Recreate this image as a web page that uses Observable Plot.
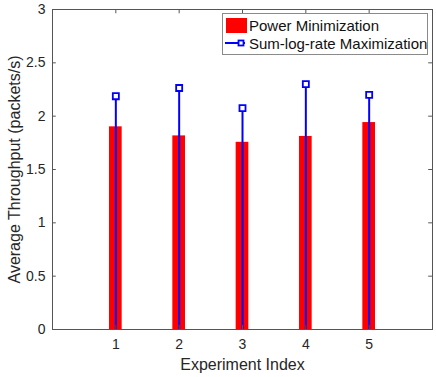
<!DOCTYPE html>
<html>
<head>
<meta charset="utf-8">
<script src="https://cdn.jsdelivr.net/npm/d3@7"></script>
<script src="https://cdn.jsdelivr.net/npm/@observablehq/plot@0.6"></script>
<style>
  html, body { margin: 0; padding: 0; background: #fff; }
  #wrap { position: relative; width: 436px; height: 377px; font-family: "Liberation Sans", Arial, sans-serif; }
  #legend { position: absolute; left: 222px; top: 13px; width: 206px; height: 42px; border: 1px solid #8a8a8a; background: #fff; box-sizing: border-box; font-size: 15px; color: #111; }
  .row { position: absolute; left: 0; height: 18px; display: flex; align-items: center; white-space: nowrap; }
  .sw { width: 21px; height: 15px; background: #ff0000; margin-left: 3px; margin-right: 2px; }
  .ln { position: relative; width: 21px; height: 14px; margin-left: 2px; margin-right: 3px; }
</style>
</head>
<body>
<div id="wrap">
  <div id="chart"></div>
  <div id="legend">
    <div class="row" style="top:2px"><div class="sw"></div><span>Power Minimization</span></div>
    <div class="row" style="top:20px"><div class="ln"><svg width="21" height="14"><line x1="0" y1="7" x2="20" y2="7" stroke="#0000ff" stroke-width="2"/><rect x="13.5" y="4.5" width="5" height="5" fill="#fff" stroke="#0000ff" stroke-width="1.8"/></svg></div><span>Sum-log-rate Maximization</span></div>
  </div>
</div>
<script>
const experiments = [1, 2, 3, 4, 5];
const powerMin = [1.90, 1.815, 1.755, 1.81, 1.94];
const sumLogRate = [2.187, 2.264, 2.075, 2.30, 2.20];
const xTicks = [1, 2, 3, 4, 5];
const yTicks = [0, 0.5, 1, 1.5, 2, 2.5, 3];

const data = experiments.map((e, i) => ({x: e, p: powerMin[i], s: sumLogRate[i]}));

const axisColor = "#555";
const textColor = "#262626";

const plot = Plot.plot({
  width: 436,
  height: 377,
  marginLeft: 52,
  marginRight: 4,
  marginTop: 9,
  marginBottom: 48,
  style: {fontFamily: "'Liberation Sans', Arial, sans-serif", color: textColor, background: "#fff"},
  x: {domain: [0, 6]},
  y: {domain: [0, 3]},
  marks: [
    Plot.rectY(data, {x1: d => d.x - 0.1, x2: d => d.x + 0.1, y1: 0, y2: "p", fill: "#ff0000"}),
    Plot.ruleX(data, {x: "x", y1: 0, y2: "s", stroke: "#0000ff", strokeWidth: 2}),
    Plot.dot(data, {x: "x", y: "s", symbol: "square", r: 3.4, stroke: "#0000ff", strokeWidth: 1.8, fill: "#fff"}),
    Plot.ruleX(xTicks, {x: d => d, y1: 0, y2: 0.04, stroke: axisColor}),
    Plot.ruleX(xTicks, {x: d => d, y1: 2.96, y2: 3, stroke: axisColor}),
    Plot.ruleY(yTicks, {y: d => d, x1: 0, x2: 0.06, stroke: axisColor}),
    Plot.ruleY(yTicks, {y: d => d, x1: 5.94, x2: 6, stroke: axisColor}),
    Plot.frame({stroke: axisColor}),
    Plot.axisX({ticks: xTicks, tickSize: 0, tickPadding: 10, fontSize: 14, tickFormat: d => String(d), label: "Experiment Index", labelAnchor: "center", labelOffset: 40, labelArrow: "none"}),
    Plot.axisY({ticks: yTicks, tickSize: 0, tickPadding: 7, fontSize: 14, tickFormat: d => String(d), label: "Average Throughput (packets/s)", labelAnchor: "center", labelOffset: 44, labelArrow: "none"})
  ]
});
plot.querySelectorAll("[aria-label='x-axis label'] text, [aria-label='y-axis label'] text").forEach(t => t.setAttribute("font-size", 16));
document.getElementById("chart").appendChild(plot);
</script>
</body>
</html>
